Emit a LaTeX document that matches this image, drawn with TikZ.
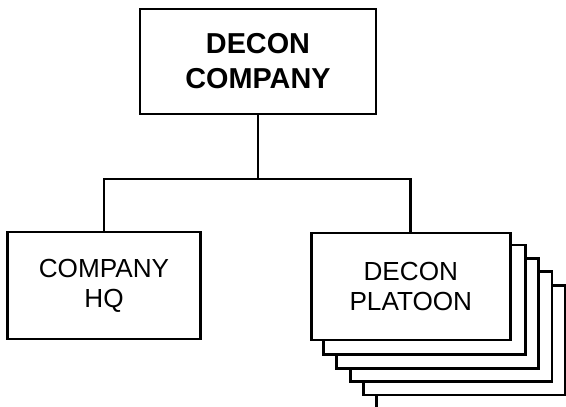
\documentclass[tikz,border=0pt]{standalone}
\usepackage{fontspec}
\setmainfont{Liberation Sans}
\usepackage{tikz}
\usetikzlibrary{positioning,calc,backgrounds}

\begin{document}
\begin{tikzpicture}[x=1cm,y=1cm,
  box/.style={draw,line width=2pt,fill=white,align=center,inner sep=0pt},
  headfont/.style={font=\fontsize{20.5}{24.8}\selectfont\bfseries},
  unitfont/.style={font=\fontsize{18.6}{21.5}\selectfont}]
\useasboundingbox (0,0) rectangle (14.15,10.15);
% company headquarters on top, two elements below
\node[box,headfont,minimum width=5.9cm,minimum height=2.625cm] (decon) at (6.45,8.6125) {DECON\\COMPANY};
\node[box,unitfont,minimum width=4.825cm,minimum height=2.675cm] (hq) at (2.6,3.0125) {COMPANY\\HQ};
\node[box,unitfont,minimum width=4.975cm,minimum height=2.675cm] (plt) at (10.27,2.9875) {DECON\\PLATOON};
% stack of platoons behind the front one
\begin{scope}[on background layer]
\clip (0,0) rectangle (14.15,10.15);
\foreach \k in {5,4,...,1}
  \draw[line width=2pt,fill=white] ($(plt.south west)+(\k*0.335,-\k*0.335)$) rectangle ($(plt.north east)+(\k*0.335,-\k*0.335)$);
\end{scope}
% tree lines
\coordinate (bar) at (6.45,5.675);
\draw[line width=2pt] (decon) -- (bar);
\draw[line width=2pt] (hq.north) |- (bar) -| (plt.north);
\end{tikzpicture}
\end{document}
